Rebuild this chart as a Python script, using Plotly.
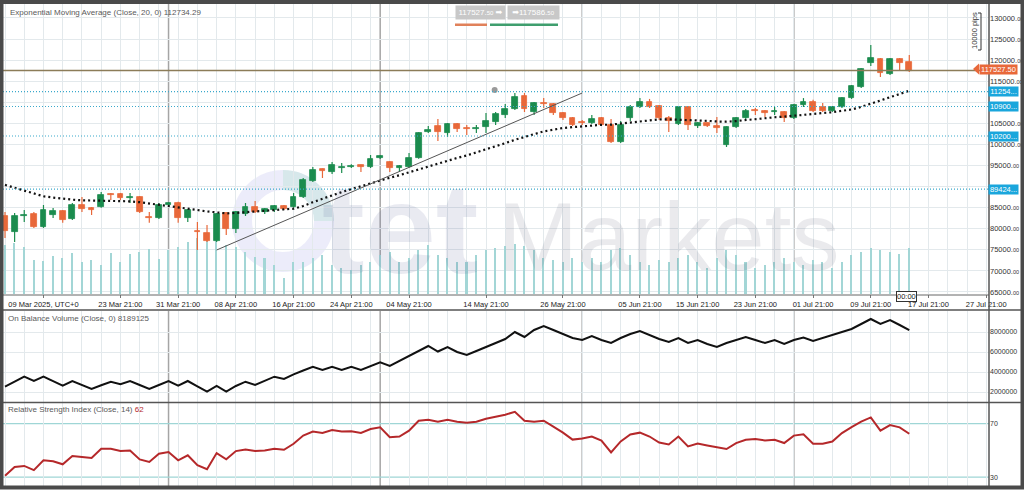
import plotly.graph_objects as go

# ---------------- data ----------------
bar_idx = list(range(95))
opens = [83024, 79229, 83024, 83499, 80415, 83262, 84211, 82313, 85634, 84922,
         85160, 88244, 88244, 87295, 87533, 82787, 82550, 85634, 86109, 82550,
         79466, 78991, 77093, 83736, 79940, 83499, 85160, 83974, 84448, 85397,
         85160, 87533, 91328, 94175, 93463, 94412, 94650, 95124, 94650, 96785,
         95836, 94412, 94650, 96785, 102953, 104377, 102716, 104851, 103902, 103665,
         104139, 105326, 106986, 108410, 111500, 107698, 109834, 109596, 107461, 106275,
         105326, 105088, 106275, 104614, 100581, 106275, 108884, 110071, 109122, 106275,
         104851, 108884, 104377, 105088, 104377, 99869, 104139, 106275, 108173, 107935,
         107698, 107698, 106275, 109359, 110071, 108884, 107935, 108884, 111020, 113629,
         119324, 120273, 116714, 120273, 119559]
highs = [83974, 83736, 84448, 83974, 85634, 84922, 84448, 86109, 87533, 85160,
         88700, 88500, 88500, 88500, 87770, 83974, 86109, 86300, 86400, 84685,
         81601, 80889, 83736, 83974, 84211, 86109, 86600, 84922, 85634, 85634,
         88500, 92040, 94650, 94300, 95836, 95600, 95300, 95200, 97496, 97496,
         96000, 95124, 98000, 102900, 104377, 106037, 105088, 105088, 104614, 104614,
         107461, 107698, 109596, 112200, 112200, 110071, 111000, 109834, 107698, 106512,
         105800, 106986, 106512, 106037, 105563, 109359, 111000, 110800, 109359, 106749,
         109122, 109122, 105326, 105200, 106512, 104300, 106512, 108410, 108647, 108173,
         108884, 107935, 109596, 111000, 110600, 109834, 109122, 111257, 114100, 118100,
         123594, 120510, 120510, 120510, 121222]
lows = [77805, 76856, 81601, 80178, 80200, 82550, 81400, 82076, 83974, 83262,
        85000, 86800, 86800, 86109, 83736, 81400, 82313, 85400, 81400, 81601,
        74958, 76856, 76856, 78517, 78991, 83024, 83736, 83499, 83974, 84448,
        85000, 87295, 91091, 92040, 93000, 93200, 94412, 93463, 94412, 96548,
        93463, 93463, 94500, 96600, 102716, 100818, 101800, 102953, 102242, 102716,
        102716, 104614, 106275, 108173, 107698, 106986, 108647, 106986, 105800, 104377,
        104614, 104851, 104377, 100344, 100344, 105563, 108647, 108647, 105800, 102953,
        104614, 103428, 103902, 104139, 102716, 99395, 103902, 106037, 106986, 106512,
        106986, 105326, 106037, 108884, 107698, 107698, 107698, 108647, 110800, 113400,
        118612, 116002, 116500, 117663, 117189]
closes = [79466, 83024, 83262, 80415, 84448, 84211, 82076, 85634, 84685, 84448,
          88007, 88007, 87295, 87533, 83974, 82550, 85634, 86109, 82550, 84448,
          79229, 77093, 83499, 79940, 83974, 85160, 83974, 84685, 85397, 84685,
          87533, 91566, 93938, 93701, 95124, 94650, 94887, 94650, 96548, 97259,
          94412, 94887, 96785, 102716, 103428, 102953, 104851, 103665, 103665, 103902,
          105563, 107224, 108410, 111257, 108410, 109834, 109596, 107461, 106275, 104614,
          105088, 106037, 104614, 100581, 104614, 108884, 110071, 108884, 106275, 105563,
          108884, 104614, 105088, 104377, 103902, 104139, 106275, 107935, 107935, 107461,
          107935, 106275, 109359, 110071, 107935, 107935, 108884, 111020, 113867, 117900,
          120510, 116951, 120273, 119324, 117527.5]
ema20 = [90400, 89700, 89000, 88300, 87700, 87400, 87100, 86900, 86750, 86700,
         86700, 86700, 86700, 86500, 86300, 86000, 85650, 85450, 85200, 84850,
         84450, 84100, 83800, 83650, 83750, 83950, 84050, 84200, 84400, 84600,
         84750, 85400, 86300, 87100, 88000, 88700, 89400, 90100, 90800, 91500,
         92100, 92700, 93400, 94100, 94800, 95400, 96100, 96800, 97400, 98100,
         98800, 99600, 100300, 101100, 101800, 102400, 103100, 103500, 103900, 104100,
         104300, 104500, 104650, 104700, 104950, 105250, 105500, 105750, 105950, 105950,
         105900, 105800, 105700, 105600, 105450, 105400, 105550, 105800, 106050, 106300,
         106450, 106600, 106850, 107050, 107250, 107450, 107650, 107900, 108300, 108900,
         109700, 110400, 111150, 111950, 112734.29]
volume = [49000, 51000, 47000, 34000, 33000, 38000, 36000, 41000, 32000, 34000,
          29000, 41000, 32000, 40000, 42000, 45000, 35000, 44000, 47000, 52000,
          56000, 59000, 57000, 49000, 47000, 42000, 37000, 36000, 29000, 16000,
          32000, 32000, 36000, 39000, 29000, 26000, 24000, 29000, 32000, 39000,
          42000, 32000, 36000, 44000, 49000, 39000, 36000, 32000, 32000, 39000,
          44000, 46000, 48000, 50000, 48000, 44000, 36000, 34000, 32000, 36000,
          32000, 36000, 32000, 44000, 46000, 39000, 32000, 29000, 34000, 32000,
          36000, 39000, 32000, 26000, 36000, 44000, 39000, 32000, 26000, 29000,
          32000, 36000, 32000, 29000, 34000, 32000, 26000, 32000, 39000, 42000,
          46000, 44000, 42000, 40000, 46000]
obv = [2530000, 3000000, 3530000, 3100000, 3530000, 3080000, 2630000, 3100000, 2700000, 2300000,
       2670000, 3030000, 2770000, 3100000, 2700000, 2300000, 2700000, 3100000, 2630000, 3100000,
       2570000, 2030000, 2600000, 2030000, 2600000, 3030000, 2700000, 3100000, 3530000, 3300000,
       3770000, 4150000, 4530000, 4200000, 4530000, 4200000, 4530000, 4200000, 4600000, 4970000,
       4600000, 5100000, 5550000, 6100000, 6600000, 6050000, 6500000, 6000000, 5700000, 6100000,
       6500000, 6900000, 7300000, 8000000, 7500000, 8200000, 8600000, 8200000, 7800000, 7400000,
       7200000, 7600000, 7200000, 6900000, 7400000, 7800000, 8100000, 7700000, 7300000, 7000000,
       7400000, 6900000, 7200000, 6800000, 6500000, 6900000, 7200000, 7500000, 7200000, 6900000,
       7200000, 6800000, 7200000, 7450000, 7100000, 7400000, 7700000, 7950000, 8300000, 8800000,
       9300000, 8800000, 9200000, 8700000, 8189125]
rsi = [31.0, 37.6, 38.4, 35.2, 42.6, 41.9, 39.6, 45.8, 45.0, 44.3,
       51.2, 51.2, 49.5, 50.0, 43.3, 41.4, 47.5, 48.8, 42.6, 46.3,
       38.9, 35.9, 48.0, 43.3, 49.5, 50.7, 49.5, 50.0, 51.2, 50.5,
       55.0, 61.1, 64.1, 63.1, 65.3, 64.1, 64.3, 63.1, 66.0, 67.3,
       59.9, 60.4, 64.8, 72.2, 73.0, 71.5, 73.0, 71.5, 70.7, 71.5,
       73.7, 75.2, 76.7, 78.9, 72.2, 71.5, 72.2, 67.8, 63.3, 58.1,
       58.9, 60.4, 57.4, 48.5, 56.7, 61.9, 63.3, 60.4, 55.9, 54.4,
       60.4, 53.0, 55.2, 53.7, 52.2, 51.0, 55.5, 58.0, 58.5, 57.5,
       58.0, 55.5, 61.1, 62.0, 55.0, 55.0, 56.7, 63.0, 67.5, 71.5,
       74.7, 64.8, 69.0, 67.3, 62.5]

tick_bars = [4, 12, 18, 24, 30, 36, 42, 50, 58, 66, 72, 78, 84, 90, 96, 102]
tick_labels = ["09 Mar 2025, UTC+0", "23 Mar 21:00", "31 Mar 21:00", "08 Apr 21:00",
               "16 Apr 21:00", "24 Apr 21:00", "04 May 21:00", "14 May 21:00",
               "26 May 21:00", "05 Jun 21:00", "15 Jun 21:00", "23 Jun 21:00",
               "01 Jul 21:00", "09 Jul 21:00", "17 Jul 21:00", "27 Jul 21:00"]
price_ticks = [65000, 70000, 75000, 80000, 85000, 90000, 95000, 100000,
               105000, 110000, 115000, 120000, 125000, 130000]
hidden_price_labels = [90000, 110000]   # covered by the level tags in the reference
obv_ticks = [2000000, 4000000, 6000000, 8000000]
rsi_ticks = [30, 70]
rsi_levels = [30, 70]

bid_price = 117527.50
ask_price = 117586.50
ema_last = "112734.29"
obv_last = "8189125"
rsi_last = "62"
level_prices = [112540, 109000, 102000, 89424]
level_tags = ["11254...", "10900...", "10200...", "89424..."]
month_breaks = [17, 39, 60, 82]
trend_x = [22, 60]
trend_y = [74958, 112206]
anchor_dot = (50.9, 112918)

# ---------------- layout helpers ----------------
W, H = 1024, 490
def px(x):
    return x / W
def py(y):
    return 1 - y / H

XL, XR = 3, 989
PITCH, X0 = 9.62, 5
x_range = [(XL - X0) / PITCH, (XR - X0) / PITCH]
x_dom = [px(XL), px(XR)]
main_dom = [py(294), py(4)]
obv_dom = [py(402), py(311)]
rsi_dom = [py(487), py(403)]

FONT = "Liberation Sans, Arial, DejaVu Sans, sans-serif"
GREEN = "#1b8c4e"
ORANGE = "#e8683a"
GRID = "#e3e9ec"
AXIS = "#555555"

fig = go.Figure()

fig.add_trace(go.Bar(x=bar_idx, y=volume, xaxis="x", yaxis="y",
                     marker=dict(color="#a3d6d6", line=dict(width=0)),
                     width=0.16, hoverinfo="skip", showlegend=False))

up = [c >= o for o, c in zip(opens, closes)]
body_base = [min(o, c) for o, c in zip(opens, closes)]
body_h = [abs(c - o) for o, c in zip(opens, closes)]
body_col = [GREEN if u else ORANGE for u in up]

for want_up, col in [(True, GREEN), (False, ORANGE)]:
    wx, wy = [], []
    for i, u in enumerate(up):
        if u == want_up:
            wx += [bar_idx[i], bar_idx[i], None]
            wy += [lows[i], highs[i], None]
    fig.add_trace(go.Scatter(x=wx, y=wy, xaxis="x", yaxis="y4", mode="lines",
                             line=dict(color=col, width=1.2),
                             hoverinfo="skip", showlegend=False))

fig.add_trace(go.Bar(x=bar_idx, y=body_h, base=body_base, xaxis="x", yaxis="y4",
                     marker=dict(color=body_col, line=dict(color=body_col, width=0.8)),
                     width=0.6, showlegend=False))

fig.add_trace(go.Scatter(x=bar_idx, y=ema20, xaxis="x", yaxis="y4", mode="lines",
                         line=dict(color="#111111", width=2.2, dash="2px,3px"),
                         showlegend=False))

fig.add_trace(go.Scatter(x=trend_x, y=trend_y, xaxis="x", yaxis="y4", mode="lines",
                         line=dict(color="#555555", width=1), showlegend=False))
fig.add_trace(go.Scatter(x=[anchor_dot[0]], y=[anchor_dot[1]], xaxis="x", yaxis="y4",
                         mode="markers", marker=dict(color="#9a9a9a", size=6),
                         showlegend=False))

fig.add_trace(go.Scatter(x=bar_idx, y=obv, xaxis="x2", yaxis="y2", mode="lines",
                         line=dict(color="#111111", width=2), showlegend=False))
fig.add_trace(go.Scatter(x=bar_idx, y=rsi, xaxis="x3", yaxis="y3", mode="lines",
                         line=dict(color="#b5282a", width=2), showlegend=False))

small = "<span style='font-size:5.5px'>00</span>"
price_text = ["" if v in hidden_price_labels else f"{v}.{small}" for v in price_ticks]

common_x = dict(range=x_range, domain=x_dom, showline=False, zeroline=False, automargin=False,
                tickmode="array", tickvals=tick_bars, ticktext=tick_labels,
                showgrid=True, gridcolor=GRID, gridwidth=1,
                minor=dict(tickmode="array", tickvals=list(range(0, 104, 2)),
                           showgrid=True, gridcolor=GRID, gridwidth=1))

fig.update_layout(
    width=W, height=H, autosize=False,
    margin=dict(l=0, r=0, t=0, b=0, pad=0, autoexpand=False),
    paper_bgcolor="white", plot_bgcolor="white",
    font=dict(family=FONT, size=8, color="#333333"),
    bargap=0, barmode="overlay", showlegend=False,
    xaxis=dict(**common_x, anchor="y", showticklabels=True,
               tickfont=dict(family=FONT, size=7.5, color="#222222"),
               ticks="outside", ticklen=3, tickcolor="#777777"),
    yaxis=dict(domain=main_dom, range=[0, 290000], visible=False, fixedrange=True,
               automargin=False),
    yaxis4=dict(domain=main_dom, range=[64520, 133320], overlaying="y", anchor="x",
                side="right", tickmode="array", tickvals=price_ticks, ticktext=price_text,
                showgrid=True, gridcolor=GRID, zeroline=False, ticks="", automargin=False,
                tickfont=dict(family=FONT, size=7.5, color="#333333")),
    xaxis2=dict(**common_x, anchor="y2", showticklabels=False, ticks=""),
    yaxis2=dict(domain=obv_dom, range=[1000000, 10100000], side="right", anchor="x2",
                tickmode="array", tickvals=obv_ticks, ticktext=[str(v) for v in obv_ticks],
                showgrid=True, gridcolor=GRID, zeroline=False, ticks="", automargin=False,
                tickfont=dict(family=FONT, size=7, color="#333333")),
    xaxis3=dict(**common_x, anchor="y3", showticklabels=False, ticks=""),
    yaxis3=dict(domain=rsi_dom, range=[22.6, 85.5], side="right", anchor="x3",
                tickmode="array", tickvals=rsi_ticks, ticktext=[str(v) for v in rsi_ticks],
                showgrid=False, zeroline=False, ticks="", automargin=False,
                tickfont=dict(family=FONT, size=7, color="#333333")),
)

shapes = []
for xb in month_breaks:
    for yr in ["y domain", "y2 domain", "y3 domain"]:
        shapes.append(dict(type="line", xref="x", yref=yr, x0=xb, x1=xb, y0=0, y1=1,
                           line=dict(color="#a5a5a5", width=1.5), layer="below"))
for lv in rsi_levels:
    shapes.append(dict(type="line", xref="x3 domain", yref="y3", x0=0, x1=1, y0=lv, y1=lv,
                       line=dict(color="#9fd6d6", width=1.2), layer="below"))
for lv in level_prices:
    shapes.append(dict(type="line", xref="x domain", yref="y4", x0=0, x1=1, y0=lv, y1=lv,
                       line=dict(color="#3aa9cc", width=1.2, dash="1px,2px")))
shapes.append(dict(type="line", xref="x domain", yref="y4", x0=0, x1=1,
                   y0=bid_price, y1=bid_price, line=dict(color="#8c7c58", width=1.4)))

# watermark ring (lavender with a pale green upper-right part)
shapes.append(dict(type="circle", xref="paper", yref="paper",
                   x0=px(242), x1=px(324), y0=py(262), y1=py(180),
                   line=dict(color="rgba(150,150,230,0.18)", width=20), layer="below"))
shapes.append(dict(type="path", xref="paper", yref="paper",
                   path=(f"M {px(283)} {py(180)} C {px(305)} {py(180)} {px(324)} {py(198)} "
                         f"{px(324)} {py(221)}"),
                   line=dict(color="rgba(140,220,180,0.22)", width=20), layer="below"))

def hline(y, x0=0, x1=W, color=AXIS, width=1.5):
    shapes.append(dict(type="line", xref="paper", yref="paper",
                       x0=px(x0), x1=px(x1), y0=py(y), y1=py(y),
                       line=dict(color=color, width=width)))
def vline(x, y0, y1, color=AXIS, width=1.5):
    shapes.append(dict(type="line", xref="paper", yref="paper",
                       x0=px(x), x1=px(x), y0=py(y0), y1=py(y1),
                       line=dict(color=color, width=width)))

hline(295, XL, XR, color="#666666", width=1)
hline(310)
hline(402.5)
vline(XR, 4, 487, width=1.5)
shapes.append(dict(type="rect", xref="paper", yref="paper",
                   x0=px(1.5), x1=px(1022.5), y0=py(487.5), y1=py(2),
                   line=dict(color="#4a4a4a", width=4)))
vline(981, 13, 50, color="#333333", width=1)
hline(13, 978, 981, color="#333333", width=1)
hline(50, 978, 981, color="#333333", width=1)
shapes.append(dict(type="rect", xref="paper", yref="paper", x0=px(455), x1=px(487),
                   y0=py(26), y1=py(23.5), line=dict(width=0), fillcolor="#e0815a"))
shapes.append(dict(type="rect", xref="paper", yref="paper", x0=px(490), x1=px(558),
                   y0=py(26), y1=py(23.5), line=dict(width=0), fillcolor="#3f9e6e"))
shapes.append(dict(type="path", xref="paper", yref="paper",
                   path=f"M {px(973)} {py(69)} L {px(979)} {py(63.5)} L {px(979)} {py(74.5)} Z",
                   fillcolor=ORANGE, line=dict(width=0)))
fig.update_layout(shapes=shapes)

ann = []
def text(x, y, s, size=7.5, color="#555555", xanchor="left", **kw):
    ann.append(dict(xref="paper", yref="paper", x=px(x), y=py(y), text=s, showarrow=False,
                    xanchor=xanchor, yanchor="middle",
                    font=dict(family=FONT, size=size, color=color), **kw))

text(8, 13, f"Exponential Moving Average (Close, 20, 0) {ema_last}", size=8, color="#5a5a5a")
text(6, 318, f"On Balance Volume (Close, 0) {obv_last}", size=8, color="#5a5a5a")
text(6, 409, f"Relative Strength Index (Close, 14) <span style='color:#b5282a'>{rsi_last}</span>",
     size=8, color="#5a5a5a")

sm = lambda s: f"<span style='font-size:6px'>{s}</span>"
b_int, b_dec = f"{bid_price:.2f}".split(".")
a_int, a_dec = f"{ask_price:.2f}".split(".")
text(480, 12.5, f"{b_int}.{sm(b_dec)} ➡", size=8, color="white", xanchor="center",
     bgcolor="#c8c8c8", width=47, height=11, borderpad=1)
text(533, 12.5, f"➡{a_int}.{sm(a_dec)}", size=8, color="white", xanchor="center",
     bgcolor="#c8c8c8", width=49, height=11, borderpad=1)

text(998, 69, f"{b_int}.{b_dec}", size=7.5, color="white", xanchor="center",
     bgcolor=ORANGE, width=37, height=9, borderpad=0)
for lv, tag in zip(level_prices, level_tags):
    ann.append(dict(xref="paper", yref="y4", x=px(1003), y=lv, text=tag, showarrow=False,
                    xanchor="center", yanchor="middle", bgcolor="#1aa6dc",
                    width=29, height=9, borderpad=0,
                    font=dict(family=FONT, size=7.5, color="white")))

text(975, 31, "10000 pips", size=7.5, color="#333333", xanchor="center", textangle=-90)
text(906, 296.5, "00:00", size=7.5, color="#222222", xanchor="center",
     bgcolor="white", bordercolor="#333333", borderwidth=1, borderpad=0)

text(400, 228, "<b>tet</b>", size=128, color="rgba(70,80,140,0.12)", xanchor="center")
text(668, 236, "Markets", size=96, color="rgba(90,90,115,0.13)", xanchor="center")

fig.update_layout(annotations=ann)

fig.write_html(
    "out.html", include_plotlyjs=True,
    config={"displayModeBar": False, "responsive": False},
    post_script=("document.documentElement.style.margin='0px';"
                 "document.documentElement.style.overflow='hidden';"
                 "document.body.style.margin='0px';document.body.style.overflow='hidden';"))
